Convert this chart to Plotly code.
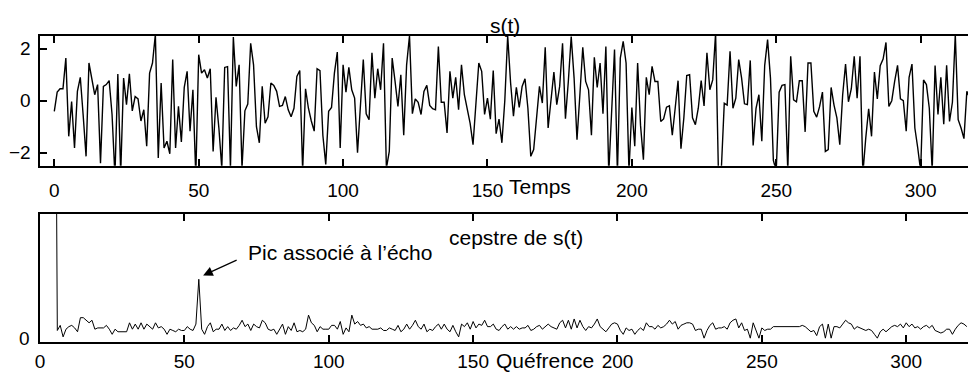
import plotly.graph_objects as go

# Signal s(t): noise plus a delayed echo (samples 0..317)
s_values = [
    -0.41, 0.33, 0.46, 0.46, 1.64, -1.37, -0.03, -1.82, 0.36, 0.90,
    -0.56, -2.14, 1.45, 0.87, 0.23, 0.62, -2.40, 0.55, 0.62, 0.77,
    -0.53, -2.90, 1.03, -2.80, 0.87, -0.15, 1.03, -0.39, 0.16, 0.07,
    -0.78, -0.35, -1.75, 1.06, 1.45, 2.55, -2.20, 0.68, -1.82, -1.56,
    -2.04, 1.58, -1.82, -0.22, -1.59, 0.51, 1.13, -1.17, 0.42, -2.90,
    1.77, 1.06, 1.19, 0.87, 1.23, -1.95, 0.13, -1.06, -2.60, 1.28,
    1.31, -2.60, 2.45, 0.55, 1.38, -2.60, -0.39, -0.13, 2.21, 1.38,
    -1.00, -1.62, 0.55, -0.87, -0.62, 0.68, 0.59, 0.36, -0.22, -0.18,
    0.16, -0.35, -0.62, -0.29, 0.93, 1.16, -2.70, 0.46, -0.29, -0.78,
    -1.17, 1.23, 1.16, -1.33, -2.45, -0.41, -0.26, 1.06, 1.87, -1.82,
    1.38, 0.33, 1.28, 0.42, 0.10, -2.00, -0.22, 1.58, -0.50, -0.73,
    1.84, 0.10, 1.23, 0.42, 2.21, -2.60, -1.95, 1.64, 0.74, -0.22,
    1.00, -1.33, 1.38, 2.50, -0.50, 0.07, -0.06, -0.53, 0.36, 0.59,
    -0.18, -0.31, -0.35, 2.08, -0.06, -0.06, -1.24, 1.13, 0.10, 0.90,
    -0.35, 1.38, 0.23, -0.26, -0.87, -1.69, 0.03, 1.45, 1.13, -0.53,
    0.10, -0.71, 1.16, -1.27, -0.71, -1.62, 0.00, 2.50, 0.70, -0.60,
    0.51, -0.26, 0.55, 0.84, -0.29, -2.14, -1.88, -0.53, 0.55, -0.09,
    2.05, -1.05, 0.03, 1.10, -0.15, 0.55, 2.21, -0.69, 0.74, 2.47,
    0.87, -1.50, 0.23, 2.05, 0.74, 0.42, -1.33, 1.67, 0.51, 1.45,
    -0.50, 2.08, -2.80, -0.30, 1.97, -2.80, 1.64, 2.28, 1.45, -2.70,
    -0.26, -1.75, 1.45, -0.94, -2.27, 0.90, 0.23, 1.32, 0.74, 0.74,
    -0.80, -0.70, -0.25, -0.20, -1.33, -0.29, 0.77, -1.85, -0.66, 0.97,
    1.00, -0.66, -0.92, -0.29, 0.77, -0.20, 1.84, 0.42, 0.80, 2.60,
    -2.90, -2.60, -0.10, -0.17, 1.90, -0.29, 0.10, 1.58, 0.87, -0.12,
    -0.15, 1.55, -1.72, -0.29, 0.23, -1.56, 1.36, 2.35, 0.87, -2.30,
    -2.70, 0.33, 0.59, 0.62, -2.70, 1.71, 0.03, -0.04, 0.77, 0.77,
    -1.20, 1.45, 1.45, -0.41, -0.63, -0.23, 0.33, -1.95, -1.88, 0.51,
    -0.17, -0.66, -1.69, 0.23, 1.41, -0.04, 0.46, 1.71, 0.10, 1.71,
    -2.80, -1.43, -0.31, -1.37, 1.10, 0.07, 1.35, 1.60, 2.24, -0.22,
    0.00, 0.74, 1.36, 0.07, 0.00, -1.17, 0.90, 1.41, -1.05, -1.82,
    -2.70, 0.80, 0.62, -0.29, -2.70, 1.35, -0.53, 0.90, -0.90, 1.36,
    -0.80, -0.06, 2.55, -0.73, -1.05, -1.46, 0.36, 0.10,
]
t_values = list(range(len(s_values)))

# Cepstrum of s(t) (quefrency samples 0..321)
cep_values = [
    8.00, 2.60, 1.90, 1.50, 1.30, 4.00,
    0.09, 0.13, 0.04, 0.10, 0.12, 0.13, 0.11, 0.08, 0.19, 0.19,
    0.17, 0.15, 0.17, 0.10, 0.11, 0.11, 0.11, 0.13, 0.10, 0.06,
    0.10, 0.08, 0.08, 0.08, 0.08, 0.15, 0.10, 0.14, 0.10, 0.15,
    0.10, 0.14, 0.12, 0.10, 0.15, 0.11, 0.12, 0.10, 0.06, 0.10,
    0.09, 0.08, 0.10, 0.09, 0.09, 0.12, 0.10, 0.09, 0.14, 0.49,
    0.10, 0.06, 0.12, 0.15, 0.08, 0.10, 0.10, 0.14, 0.09, 0.12,
    0.09, 0.11, 0.10, 0.13, 0.17, 0.12, 0.14, 0.09, 0.14, 0.12,
    0.11, 0.17, 0.15, 0.10, 0.09, 0.10, 0.06, 0.10, 0.14, 0.06,
    0.12, 0.09, 0.15, 0.08, 0.09, 0.08, 0.10, 0.21, 0.15, 0.13,
    0.08, 0.12, 0.10, 0.10, 0.10, 0.13, 0.13, 0.10, 0.16, 0.06,
    0.11, 0.08,
    0.21, 0.14, 0.16, 0.13, 0.14, 0.11, 0.12, 0.10, 0.10, 0.10,
    0.11, 0.09, 0.09, 0.11, 0.10, 0.09, 0.13, 0.08, 0.10, 0.14,
    0.10, 0.13, 0.17, 0.12, 0.10, 0.14, 0.08, 0.10, 0.09, 0.12,
    0.14, 0.10, 0.14, 0.10, 0.08, 0.13, 0.08, 0.04, 0.14, 0.12,
    0.15, 0.10, 0.16, 0.11, 0.14, 0.13, 0.17, 0.12, 0.12, 0.14,
    0.10, 0.09, 0.12, 0.14, 0.10, 0.12, 0.10, 0.12, 0.10, 0.11,
    0.11, 0.13, 0.09, 0.10, 0.12, 0.13, 0.10, 0.12, 0.14, 0.12,
    0.11, 0.10, 0.15, 0.17, 0.11, 0.17, 0.10, 0.18, 0.11, 0.17,
    0.12, 0.09, 0.12, 0.11, 0.14, 0.18, 0.12, 0.10, 0.08, 0.11,
    0.14, 0.15, 0.14, 0.09, 0.06, 0.11, 0.09, 0.10, 0.06, 0.09,
    0.11, 0.09, 0.15, 0.12, 0.12,
    0.10, 0.13, 0.11, 0.12, 0.14, 0.17, 0.14, 0.16, 0.10, 0.13,
    0.14, 0.15, 0.15, 0.14, 0.09, 0.10, 0.10, 0.03, 0.09, 0.13,
    0.15, 0.10, 0.11, 0.11, 0.12, 0.10, 0.15, 0.17, 0.18, 0.11,
    0.15, 0.09, 0.10, 0.03, 0.15, 0.09, 0.03, 0.11, 0.09, 0.10,
    0.10, 0.12, 0.12, 0.12, 0.12, 0.12, 0.12, 0.12, 0.12, 0.12,
    0.12, 0.13, 0.12, 0.10, 0.08, 0.09, 0.05, 0.12, 0.14, 0.03,
    0.14, 0.03, 0.12, 0.12, 0.11, 0.14, 0.17, 0.15, 0.14, 0.10,
    0.12, 0.11, 0.10, 0.09, 0.10, 0.09, 0.06, 0.03, 0.08, 0.10,
    0.08, 0.10, 0.12, 0.13, 0.12, 0.14, 0.11, 0.15, 0.12, 0.14,
    0.11, 0.12, 0.10, 0.12, 0.13, 0.11, 0.13, 0.09, 0.08, 0.07,
    0.08, 0.10, 0.10, 0.06, 0.10, 0.13, 0.15, 0.14, 0.12,
]
q_values = list(range(len(cep_values)))

x_tick_vals = [0, 50, 100, 150, 200, 250, 300]
s_tick_vals = [-2, 0, 2]
cep_tick_vals = [0]

FONT = "Liberation Sans, Arial, Helvetica, sans-serif"
W, H = 968, 374


def px_x(p):
    return p / W


def px_y(p):
    return 1 - p / H


def tick_text(v):
    return ("\u2212" if v < 0 else "") + str(abs(v))


fig = go.Figure()
fig.add_trace(go.Scatter(x=t_values, y=s_values, mode="lines",
                         line=dict(color="black", width=1.4),
                         xaxis="x", yaxis="y", showlegend=False))
fig.add_trace(go.Scatter(x=q_values, y=cep_values, mode="lines",
                         line=dict(color="black", width=1.0),
                         xaxis="x2", yaxis="y2", showlegend=False))

tick_font = dict(family=FONT, size=19, color="black")
axis_common = dict(showline=True, linecolor="black", linewidth=2,
                   ticks="inside", ticklen=7, tickwidth=1.5, tickcolor="black",
                   showgrid=False, zeroline=False, automargin=False,
                   tickfont=tick_font)

fig.update_layout(
    width=W, height=H,
    margin=dict(l=0, r=0, t=0, b=0),
    plot_bgcolor="white", paper_bgcolor="white",
    xaxis=dict(domain=[px_x(40), 1.0], range=[-4.95, 316.4],
               tickvals=x_tick_vals, mirror="ticks", anchor="y",
               ticklabelstandoff=6, **axis_common),
    yaxis=dict(domain=[px_y(165.7), px_y(35.7)], range=[-2.5, 2.5],
               tickvals=s_tick_vals, mirror=False, anchor="x",
               showticklabels=False, **axis_common),
    xaxis2=dict(domain=[px_x(40), 1.0], range=[0, 321.4],
                tickvals=x_tick_vals, mirror="ticks", anchor="y2",
                ticklabelstandoff=1, **axis_common),
    yaxis2=dict(domain=[px_y(342), px_y(214)], range=[0, 1],
                tickvals=cep_tick_vals, mirror=False, anchor="x2",
                showticklabels=False, **axis_common),
)

# Y tick labels, right-aligned just left of the frame
for v in s_tick_vals:
    fig.add_annotation(text=tick_text(v), xref="paper", yref="y", x=px_x(33), y=v,
                       xanchor="right", yanchor="middle", showarrow=False,
                       font=tick_font)
for v in cep_tick_vals:
    fig.add_annotation(text=tick_text(v), xref="paper", yref="y2", x=px_x(32), y=v,
                       xanchor="right", yanchor="middle", yshift=4, showarrow=False,
                       font=tick_font)

text_font = dict(family=FONT, size=21, color="black")
annotations = [
    dict(text="s(t)", x=px_x(505), y=px_y(25)),
    dict(text="Temps", x=px_x(540), y=px_y(186)),
    dict(text="cepstre de s(t)", x=px_x(516), y=px_y(237)),
    dict(text="Quéfrence", x=px_x(545), y=px_y(360)),
]
for a in annotations:
    fig.add_annotation(xref="paper", yref="paper", showarrow=False,
                       xanchor="center", yanchor="middle", font=text_font, **a)

fig.add_annotation(text="Pic associé à l\u2019écho", xref="paper", yref="paper",
                   x=px_x(246), y=px_y(252), xanchor="left", yanchor="middle",
                   showarrow=False, font=text_font)
# Arrow pointing at the echo peak
fig.add_annotation(text="", xref="x2", yref="y2", x=56.5, y=0.52,
                   ax=35, ay=-16, showarrow=True, arrowhead=2, arrowsize=1.6,
                   arrowwidth=1.2, arrowcolor="black")

fig.write_html("out.html")
